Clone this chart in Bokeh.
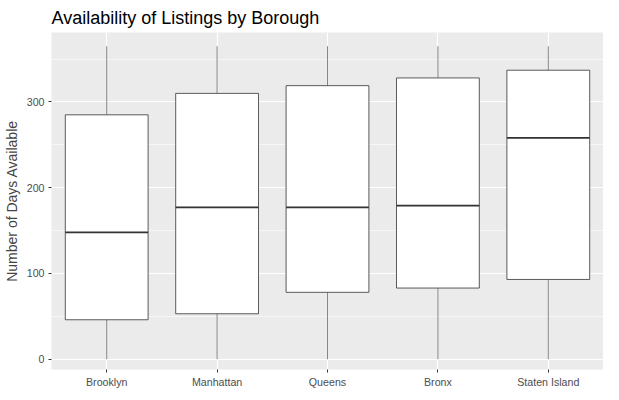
from bokeh.plotting import figure
from bokeh.embed import file_html
from bokeh.resources import INLINE
from bokeh.models import FixedTicker

boroughs = ["Brooklyn", "Manhattan", "Queens", "Bronx", "Staten Island"]
lower = [0, 0, 0, 0, 0]
q1 = [46, 53, 78, 83, 93]
median = [148, 177, 177, 179, 258]
q3 = [285, 310, 319, 328, 337]
upper = [365, 365, 365, 365, 365]

p = figure(width=603, height=390, x_range=boroughs, y_range=(-12, 381),
           output_backend="svg", toolbar_location=None,
           title="Availability of Listings by Borough")
p.min_border_left = 0
p.min_border_right = 0
p.min_border_top = 5
p.min_border_bottom = 5
p.background_fill_color = "#EBEBEB"
p.outline_line_color = None
p.title.text_font = "Liberation Sans"
p.title.text_font_size = "13.5pt"
p.title.text_font_style = "normal"
p.title.text_color = "black"

p.segment(x0=boroughs, y0=lower, x1=boroughs, y1=q1, line_color="#333333", line_width=0.6)
p.segment(x0=boroughs, y0=q3, x1=boroughs, y1=upper, line_color="#333333", line_width=0.6)
p.vbar(x=boroughs, bottom=q1, top=q3, width=0.75, fill_color="white", line_color="#333333", line_width=0.8)
p.vbar(x=boroughs, bottom=median, top=median, width=0.75, line_color="#333333", line_width=1.8, fill_color=None)

p.yaxis.ticker = FixedTicker(ticks=[0, 100, 200, 300], minor_ticks=[50, 150, 250, 350])
p.yaxis.axis_label = "Number of Days Available"
p.yaxis.axis_label_text_font = "Liberation Sans"
p.yaxis.axis_label_text_font_style = "normal"
p.yaxis.axis_label_text_font_size = "10.5pt"
p.yaxis.axis_label_standoff = 4
for ax in (p.xaxis, p.yaxis):
    ax.axis_line_color = None
    ax.major_tick_line_color = "#333333"
    ax.minor_tick_line_color = None
    ax.major_tick_out = 3
    ax.major_tick_in = 0
    ax.major_label_standoff = 3
    ax.major_label_text_color = "#4D4D4D"
    ax.major_label_text_font = "Liberation Sans"
    ax.major_label_text_font_size = "8pt"

p.xgrid.grid_line_color = "white"
p.xgrid.grid_line_width = 1.2
p.ygrid.grid_line_color = "white"
p.ygrid.grid_line_width = 1.2
p.ygrid.minor_grid_line_color = "white"
p.ygrid.minor_grid_line_width = 0.6

open("out.html", "w").write(file_html(p, INLINE))
